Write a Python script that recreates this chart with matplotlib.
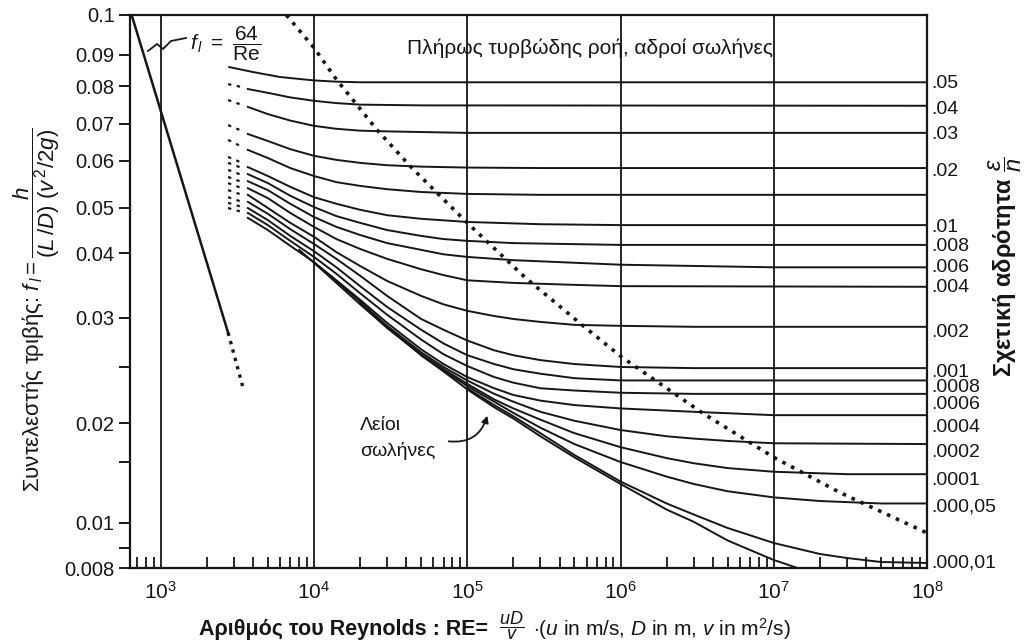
import numpy as np
import matplotlib
matplotlib.use("Agg")
import matplotlib.pyplot as plt
from matplotlib.ticker import FixedLocator, NullLocator, LogLocator, NullFormatter, FixedFormatter
from matplotlib.lines import Line2D

plt.rcParams['font.family'] = ['Liberation Sans', 'DejaVu Sans']
plt.rcParams['mathtext.fontset'] = 'custom'
plt.rcParams['mathtext.rm'] = 'Liberation Sans'
plt.rcParams['mathtext.it'] = 'Liberation Sans:italic'
plt.rcParams['mathtext.bf'] = 'Liberation Sans:bold'
plt.rcParams['mathtext.sf'] = 'Liberation Sans'

INK = '#161616'
W, H = 1030, 641

# ---- y axis of the scan (ticks are unevenly spaced) ----
f_ticks = [0.008, 0.009, 0.01, 0.015, 0.02, 0.025, 0.03, 0.04, 0.05, 0.06, 0.07, 0.08, 0.09, 0.1]
f_tick_labels = ['0.008', '', '0.01', '', '0.02', '', '0.03', '0.04', '0.05', '0.06', '0.07', '0.08', '0.09', '0.1']
f_pos = [0.0, 0.0362, 0.0814, 0.1917, 0.2622, 0.3635, 0.4521, 0.5696, 0.651, 0.736, 0.8029, 0.8716, 0.9277, 1.0]

# ---- laminar line f = 64/Re ----
lam_re = [646, 2750]
lam_f = [0.1, 0.0285]
lam_dot_re = [2750, 3450]
lam_dot_f = [0.0285, 0.0231]

# ---- boundary of fully rough zone (dotted) ----
bnd_re = [6600, 1e4, 1.41e4, 1.91e4, 2.58e4, 4.3e4, 1e5, 2.37e5, 5.6e5, 1.02e6, 3.42e6, 1e7, 2.7e7, 1e8]
bnd_f = [0.1, 0.0918, 0.0819, 0.075, 0.0684, 0.0587, 0.0467, 0.0363, 0.0293, 0.026, 0.0209, 0.0156, 0.0125, 0.0096]

# ---- smooth pipes ----
smooth_re = [8000, 1e4, 1.4e4, 2e4, 3e4, 5e4, 7e4, 1e5, 1.5e5, 2e5, 3e5, 5e5, 1e6, 2e6, 3e6, 5e6, 1e7, 1.43e7]
smooth_f = [0.0407, 0.0385, 0.0354, 0.0321, 0.029, 0.0262, 0.0246, 0.023, 0.0214, 0.0204, 0.0183, 0.0156,
            0.0132, 0.0111, 0.0101, 0.0093, 0.0084, 0.008]

# ---- relative roughness curves ----
re_dot = [2750, 3400]
rough_labels = ['.05', '.04', '.03', '.02', '', '.01', '.008', '.006', '.004', '.002',
                '.001', '.0008', '.0006', '.0004', '.0002', '.0001', '.000,05', '.000,01']

dot_f = [None,
         [0.0806, 0.0797], [0.0763, 0.0750], [0.0697, 0.0681], [0.0657, 0.0638],
         [0.0611, 0.0596], [0.0596, 0.0585], [0.0581, 0.0570], [0.0566, 0.0555],
         [0.0553, 0.0542], [0.0538, 0.0528], [0.0523, 0.0513], [0.0511, 0.0502],
         [0.0500, 0.0491], None, None, None, None]

re_long = [3700, 5000, 7000, 1e4, 1.4e4, 2e4, 3e4, 5e4, 7e4, 1e5, 1.5e5, 2e5, 3e5, 5e5, 1e6, 3e6, 1e7, 1e8]

curve_re = [
    [2800, 4000, 6000, 1e4, 1.4e4, 2e4, 5e4, 1e8],
    [3700, 5000, 7000, 1e4, 1.4e4, 2e4, 5e4, 1e8],
    [3700, 5000, 7000, 1e4, 1.4e4, 2e4, 3e4, 1e5, 1e8],
    [3700, 5000, 7000, 1e4, 1.4e4, 2e4, 3e4, 5e4, 1e5, 3e5, 1e8],
    [3700, 5000, 7000, 1e4, 1.4e4, 2e4, 3e4, 5e4, 1e5, 3e5, 1e8],
    [3700, 5000, 7000, 1e4, 1.4e4, 2e4, 3e4, 5e4, 1e5, 3e5, 1e6, 1e8],
    [3700, 5000, 7000, 1e4, 1.4e4, 2e4, 3e4, 5e4, 7e4, 1e5, 2e5, 1e6, 1e8],
    [3700, 5000, 7000, 1e4, 1.4e4, 2e4, 3e4, 5e4, 7e4, 1e5, 2e5, 5e5, 1e6, 1e7, 1e8],
    [3700, 5000, 7000, 1e4, 1.4e4, 2e4, 3e4, 5e4, 7e4, 1e5, 2e5, 5e5, 1e6, 1e8],
    re_long[:13] + [5e5, 1e6, 3e6, 1e8],
    re_long[:13] + [5e5, 1e6, 3e6, 1e8],
    re_long[:13] + [5e5, 1e6, 1e8],
    re_long[:13] + [5e5, 1e6, 3e6, 1e8],
    re_long[:13] + [5e5, 1e6, 3e6, 1e7, 1e8],
    [1e4, 1.4e4, 2e4, 3e4, 5e4, 7e4, 1e5, 1.5e5, 2e5, 3e5, 5e5, 1e6, 2e6, 3e6, 5e6, 1e7, 1e8],
    [2e4, 3e4, 5e4, 7e4, 1e5, 1.5e5, 2e5, 3e5, 5e5, 1e6, 2e6, 3e6, 5e6, 1e7, 3e7, 1e8],
    [5e4, 7e4, 1e5, 1.5e5, 2e5, 3e5, 5e5, 1e6, 2e6, 3e6, 5e6, 1e7, 2e7, 5e7, 1e8],
    [1e5, 1.5e5, 2e5, 3e5, 5e5, 1e6, 2e6, 3e6, 5e6, 1e7, 2e7, 3e7, 5e7, 1e8],
]
curve_f = [
    [0.0861, 0.0845, 0.0829, 0.0818, 0.0814, 0.0812, 0.0812, 0.0812],
    [0.0792, 0.0782, 0.0770, 0.0761, 0.0755, 0.0751, 0.0749, 0.0748],
    [0.0745, 0.0726, 0.0709, 0.0695, 0.0687, 0.0682, 0.0680, 0.0676, 0.0676],
    [0.0673, 0.0654, 0.0632, 0.0614, 0.0603, 0.0596, 0.0591, 0.0588, 0.0586, 0.0585, 0.0585],
    [0.0630, 0.0608, 0.0585, 0.0568, 0.0555, 0.0547, 0.0540, 0.0534, 0.0530, 0.0528, 0.0528],
    [0.0587, 0.0568, 0.0545, 0.0523, 0.0509, 0.0496, 0.0484, 0.0476, 0.0469, 0.0464, 0.0462, 0.0462],
    [0.0572, 0.0553, 0.0526, 0.0502, 0.0482, 0.0467, 0.0451, 0.0438, 0.0431, 0.0427, 0.0422, 0.0418, 0.0418],
    [0.0557, 0.0538, 0.0509, 0.0480, 0.0458, 0.0440, 0.0422, 0.0407, 0.0398, 0.0394, 0.0389, 0.0385,
     0.0382, 0.0378, 0.0378],
    [0.0542, 0.0521, 0.0489, 0.0458, 0.0431, 0.0409, 0.0391, 0.0375, 0.0366, 0.0358, 0.0354, 0.0351,
     0.0349, 0.0348],
    [0.0528, 0.0500, 0.0467, 0.0436, 0.0402, 0.0380, 0.0357, 0.0334, 0.0321, 0.0311, 0.0303, 0.0299,
     0.0296, 0.0293, 0.0292, 0.0291, 0.0291],
    [0.0513, 0.0487, 0.0453, 0.0420, 0.0391, 0.0365, 0.0334, 0.0299, 0.0288, 0.0277, 0.0267, 0.0262,
     0.0257, 0.0253, 0.0250, 0.0249, 0.0249],
    [0.0500, 0.0473, 0.0438, 0.0404, 0.0378, 0.0349, 0.0317, 0.0288, 0.0274, 0.0262, 0.0253, 0.0248,
     0.0244, 0.0240, 0.0238, 0.0238],
    [0.0489, 0.0462, 0.0427, 0.0394, 0.0368, 0.0338, 0.0305, 0.0278, 0.0263, 0.0251, 0.0241, 0.0236,
     0.0231, 0.0229, 0.0227, 0.0226, 0.0226],
    [0.0478, 0.0451, 0.0416, 0.0386, 0.0358, 0.0328, 0.0295, 0.0268, 0.0253, 0.0241, 0.0231, 0.0225,
     0.0220, 0.0216, 0.0213, 0.0210, 0.0207, 0.0207],
    [0.0385, 0.0357, 0.0325, 0.0292, 0.0265, 0.0250, 0.0238, 0.0226, 0.0219, 0.0210, 0.0202, 0.0191,
     0.0183, 0.0180, 0.0177, 0.0174, 0.0173],
    [0.0323, 0.0290, 0.0263, 0.0248, 0.0235, 0.0221, 0.0213, 0.0203, 0.0187, 0.0169, 0.0155, 0.0149,
     0.0145, 0.0142, 0.0140, 0.0140],
    [0.0262, 0.0247, 0.0233, 0.0219, 0.0209, 0.0194, 0.0173, 0.0150, 0.0138, 0.0132, 0.0126, 0.0121,
     0.0118, 0.0116, 0.0116],
    [0.0231, 0.0216, 0.0206, 0.0187, 0.0159, 0.0134, 0.0116, 0.0107, 0.0098, 0.0092, 0.0087, 0.0085,
     0.0083, 0.00825],
]

# label shift below the line end, in pixels (labels crowd together at the right)
label_shift = [1, 4, 2, 3, 0, 2, 2, 0, 1, 6, 4, 7, 11, 12, 8, 6, 4, 0]


def fwd(f):
    return np.interp(f, f_ticks, f_pos)


def inv(t):
    return np.interp(t, f_pos, f_ticks)


def fp(x, y):
    # pixel of the scan -> figure fraction
    return x / W, 1 - y / H


fig = plt.figure(figsize=(W / 100, H / 100), dpi=100)
fig.patch.set_facecolor('white')
ax = fig.add_axes([130 / W, 1 - 568 / H, (927 - 130) / W, (568 - 15) / H])
ax.set_xscale('log')
ax.set_yscale('function', functions=(fwd, inv))
ax.set_xlim(630, 1e8)
ax.set_ylim(0.008, 0.1)

# axes styling
for s in ax.spines.values():
    s.set_color(INK)
    s.set_linewidth(1.6)
ax.yaxis.set_major_locator(FixedLocator(f_ticks))
ax.yaxis.set_major_formatter(FixedFormatter(f_tick_labels))
ax.yaxis.set_minor_locator(NullLocator())
ax.tick_params(axis='y', which='major', direction='out', length=8, width=1.4,
               color=INK, labelsize=14.5, pad=3, labelcolor=INK)
ax.xaxis.set_major_locator(LogLocator(base=10, numticks=12))
ax.xaxis.set_minor_locator(LogLocator(base=10, subs=np.arange(2, 10), numticks=12))
ax.xaxis.set_minor_formatter(NullFormatter())
ax.tick_params(axis='x', which='major', length=0, labelsize=15, pad=9, labelcolor=INK)
ax.tick_params(axis='x', which='minor', direction='in', length=8, width=1.3, color=INK)
ax.grid(axis='x', which='major', color=INK, lw=1.3)

# laminar
ax.plot(lam_re, lam_f, color=INK, lw=1.8)
ax.plot(lam_dot_re, lam_dot_f, color=INK, lw=2.4, ls=(0, (1, 1.6)))

# roughness curves
for i in range(len(curve_re)):
    if dot_f[i] is not None:
        ax.plot(re_dot, dot_f[i], color=INK, lw=1.6, ls=(0, (1.5, 2.5)))
    ax.plot(curve_re[i], curve_f[i], color=INK, lw=1.4, solid_joinstyle='round')
    if rough_labels[i]:
        ax.annotate(rough_labels[i], xy=(curve_re[i][-1], curve_f[i][-1]),
                    xytext=(3, -label_shift[i] * 0.72), textcoords='offset points',
                    ha='left', va='center', fontsize=14, color=INK, annotation_clip=False)

# smooth pipes
ax.plot(smooth_re, smooth_f, color=INK, lw=1.4, solid_joinstyle='round')

# fully rough boundary
ax.plot(bnd_re, bnd_f, color=INK, lw=2.6, ls=(0, (1, 1.7)))

# texts
fig.text(*fp(590, 48), 'Πλήρως τυρβώδης ροή, αδροί σωλήνες', ha='center', va='center',
         fontsize=15, color=INK)
fig.text(*fp(190, 44), r'$f_{\,l}\ =\ \dfrac{64}{\mathrm{Re}}$', ha='left', va='center',
         fontsize=15, color=INK)
sq_x = [148, 157, 163, 171, 186]
sq_y = [51, 44, 49, 41, 38]
fig.add_artist(Line2D([x / W for x in sq_x], [1 - y / H for y in sq_y], color=INK, lw=1.3))

fig.text(*fp(360, 425), 'Λείοι', ha='left', va='center', fontsize=14, color=INK)
fig.text(*fp(360, 451), 'σωλήνες', ha='left', va='center', fontsize=14, color=INK)
ax.annotate('', xy=fp(488, 413), xycoords='figure fraction',
            xytext=fp(446, 441), textcoords='figure fraction',
            arrowprops=dict(arrowstyle='-|>', color=INK, lw=1.3, mutation_scale=10,
                            connectionstyle='arc3,rad=0.45'))

fig.text(*fp(37, 310), r'Συντελεστής τριβής: $f_{\,l} = \dfrac{h}{(L\,/D)\ (v^{\,2}/2g)}$',
         rotation=90, ha='center', va='center', fontsize=16, color=INK)
fig.text(*fp(1005, 267), r'Σχετική αδρότητα $\dfrac{\varepsilon}{n}$', rotation=90,
         ha='center', va='center', fontsize=17, fontweight='bold', color=INK)

fig.text(*fp(488, 629), 'Αριθμός του Reynolds : RE=', ha='right', va='center',
         fontsize=15.5, fontweight='bold', color=INK)
fig.text(*fp(512, 626), r'$\dfrac{uD}{v}$', ha='center', va='center', fontsize=13, color=INK)
fig.text(*fp(533, 629), r'$\cdot$(' + r'$u$ in m/s, $D$ in m, $v$ in m$^2$/s)',
         ha='left', va='center', fontsize=15, color=INK)

fig.savefig('out.png', dpi=100, facecolor='white')
